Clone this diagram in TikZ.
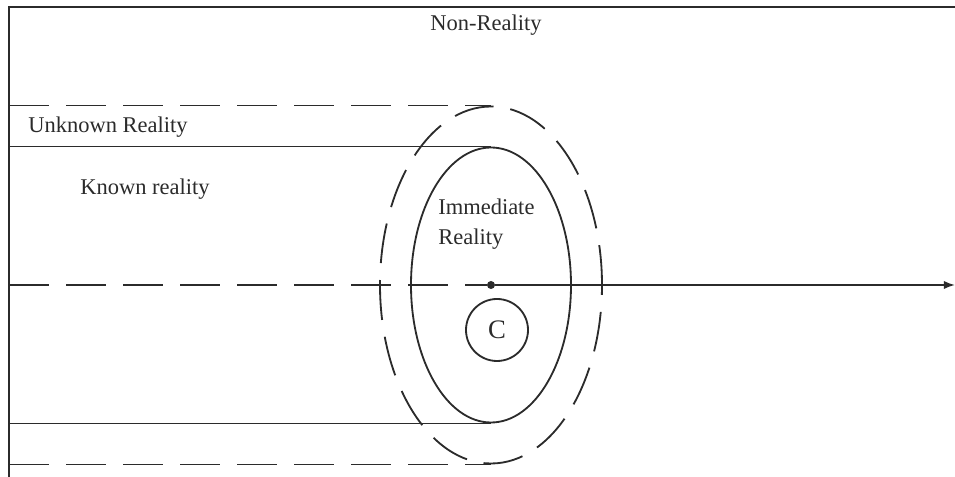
\documentclass[tikz,border=0pt]{standalone}
\usepackage{fontspec}
\setmainfont{Liberation Serif}
\usetikzlibrary{positioning, shapes.geometric, arrows.meta}
\definecolor{inkGrey}{HTML}{2B2B2B}
\tikzset{
  edge/.style={draw=inkGrey, line width=1.3pt},
  fringe/.style={dash pattern=on 10mm off 4.25mm},
  zone/.style={edge, ellipse, inner sep=0pt},
  tag/.style={font=\fontsize{16}{21}\selectfont, text=inkGrey, inner sep=0pt},
  dot/.style={circle, fill=inkGrey, inner sep=0pt, minimum size=2mm}
}

\begin{document}
\begin{tikzpicture}[x=0.25mm, y=-0.25mm]
  \useasboundingbox (0,0) rectangle (955,477);

  % frame: top and left edge only
  \coordinate (topright) at (955,7);
  \coordinate (corner) at (9,7);
  \coordinate (footleft) at (9,477);
  \draw[edge] (topright) -- (corner) -- (footleft);

  % immediate reality, its dashed fringe, the self
  \node[zone, minimum width=40mm, minimum height=68.75mm] (imm) at (491,285) {};
  \node[zone, fringe, minimum width=55.5mm, minimum height=89.25mm] (outer) at (491,285) {};
  \node[dot] (now) at (imm.center) {};
  \node[edge, circle, inner sep=0pt, minimum size=15.5mm, tag, font=\fontsize{19}{21}\selectfont] (c) at (497,330) {C};

  % bands of known and unknown reality
  \draw[edge, fringe] (corner |- outer.north) -- (outer.north);
  \draw[edge] (corner |- imm.north) -- (imm.north);
  \draw[edge] (corner |- imm.south) -- (imm.south);
  \draw[edge, fringe] (corner |- outer.south) -- (outer.south);

  % time axis
  \draw[edge, fringe] (corner |- now) -- (now);
  \draw[edge, -{Latex[length=8pt, width=6pt]}] (now) -- (topright |- now);

  % labels
  \node[tag] (nonreal) at (486,25) {Non-Reality};
  \node[tag, anchor=west] (unknown) at (28,127) {Unknown Reality};
  \node[tag, anchor=west] (known) at (80,189) {Known reality};
  \node[tag, anchor=north west, align=left] (immtext) at (438,199) {Immediate\\Reality};
\end{tikzpicture}
\end{document}
